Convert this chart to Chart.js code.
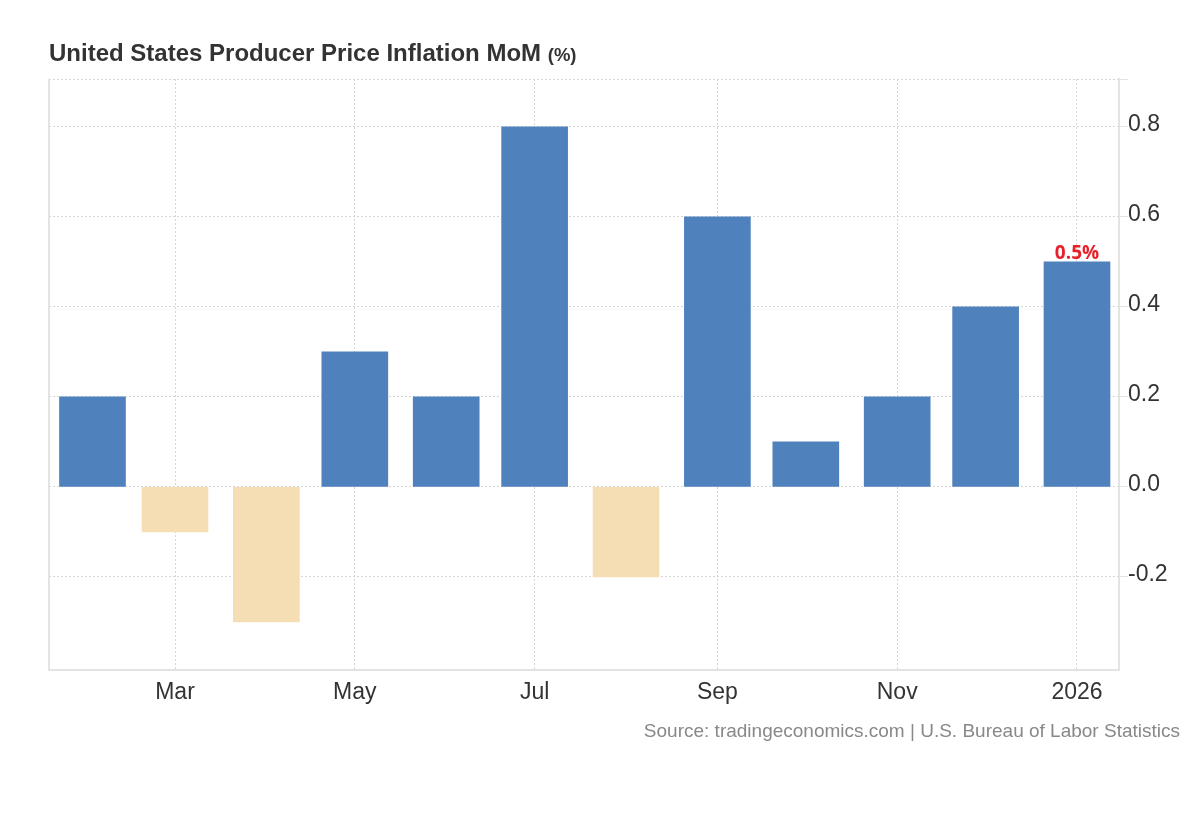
<!DOCTYPE html>
<html>
<head>
<meta charset="utf-8">
<script src="https://cdn.jsdelivr.net/npm/chart.js@4.4.1/dist/chart.umd.min.js"></script>
<style>
body { margin: 0; background: #fff; }
#wrap { position: relative; width: 1200px; height: 820px; }
#title { position: absolute; left: 49px; top: 39px; font: bold 24px "Liberation Sans", Arial, sans-serif; color: #333; white-space: nowrap; }
#title span { font-size: 18.5px; }
#source { position: absolute; right: 20px; top: 720px; font: 19px "Liberation Sans", Arial, sans-serif; color: #888; white-space: nowrap; }
canvas { position: absolute; left: 0; top: 0; }
</style>
</head>
<body>
<div id="wrap">
  <canvas id="chart" width="1200" height="820"></canvas>
  <div id="title">United States Producer Price Inflation MoM <span>(%)</span></div>
  <div id="source">Source: tradingeconomics.com | U.S. Bureau of Labor Statistics</div>
</div>
<script>
// monthly PPI change, Feb 2025 - Jan 2026
var months = ['2025-02', '2025-03', '2025-04', '2025-05', '2025-06', '2025-07',
              '2025-08', '2025-09', '2025-10', '2025-11', '2025-12', '2026-01'];
var values = [0.2, -0.1, -0.3, 0.3, 0.2, 0.8, -0.2, 0.6, 0.1, 0.2, 0.4, 0.5];
var xTickMonths = ['2025-03', '2025-05', '2025-07', '2025-09', '2025-11', '2026-01'];
var xTickLabels = ['Mar', 'May', 'Jul', 'Sep', 'Nov', '2026'];
var yTicks = [-0.2, 0, 0.2, 0.4, 0.6, 0.8];
var lastLabel = '0.5%';

function dayIndex(m) {
    var p = m.split('-');
    return (Date.UTC(+p[0], +p[1] - 1, 1) - Date.UTC(2025, 1, 1)) / 86400000;
}

var yMin = -0.407, yMax = 0.906;
var tickFont = { family: '"Liberation Sans", Arial, sans-serif', size: 23 };

var extras = {
    id: 'extras',
    afterDatasetsDraw: function(chart) {
        var ctx = chart.ctx, area = chart.chartArea;
        ctx.save();
        ctx.strokeStyle = '#e3e3e3';
        ctx.lineWidth = 2;
        ctx.beginPath();
        ctx.moveTo(area.left, area.top);
        ctx.lineTo(area.left, area.bottom + 1);
        ctx.stroke();

        var bar = chart.getDatasetMeta(0).data[values.length - 1];
        ctx.fillStyle = '#e8202a';
        ctx.font = 'bold 19px "Open Sans", "DejaVu Sans", sans-serif';
        ctx.textAlign = 'center';
        ctx.textBaseline = 'alphabetic';
        ctx.fillText(lastLabel, bar.x, bar.y - 3);
        ctx.restore();
    }
};

var chart = new Chart(document.getElementById('chart'), {
    type: 'bar',
    data: {
        datasets: [{
            data: months.map(function(m, i) { return { x: dayIndex(m), y: values[i] }; }),
            backgroundColor: values.map(function(v) { return v >= 0 ? '#4f81bd' : '#f5deb3'; }),
            barThickness: 66
        }]
    },
    options: {
        responsive: false,
        animation: false,
        layout: { padding: { left: 49, top: 79, right: 0, bottom: 0 } },
        plugins: { legend: { display: false }, tooltip: { enabled: false } },
        scales: {
            x: {
                type: 'linear',
                min: -14.75,
                max: 348.25,
                offset: false,
                afterBuildTicks: function(scale) {
                    scale.ticks = xTickMonths.map(function(m) { return { value: dayIndex(m) }; });
                },
                afterFit: function(scale) {
                    scale.height = 150;
                    scale.paddingLeft = 0;
                    scale.paddingRight = 0;
                },
                ticks: {
                    autoSkip: false,
                    maxRotation: 0,
                    padding: 9,
                    color: '#333',
                    font: tickFont,
                    callback: function(v, i) { return xTickLabels[i]; }
                },
                grid: { offset: false, color: '#d6d6d6', lineWidth: 1, drawTicks: false },
                border: { display: true, color: '#e3e3e3', width: 2, dash: [2, 2] }
            },
            y: {
                position: 'right',
                min: yMin,
                max: yMax,
                afterBuildTicks: function(scale) {
                    scale.ticks = yTicks.map(function(v) { return { value: v }; });
                    scale.ticks.push({ value: yMax });
                },
                afterFit: function(scale) {
                    scale.width = 81;
                    scale.paddingTop = 0;
                    scale.paddingBottom = 0;
                },
                ticks: {
                    padding: 0,
                    labelOffset: -2,
                    color: '#333',
                    font: tickFont,
                    callback: function(v) { return yTicks.indexOf(v) >= 0 ? v.toFixed(1) : ''; }
                },
                grid: { color: '#d6d6d6', lineWidth: 1, tickLength: 9, tickColor: '#e3e3e3', tickBorderDash: [] },
                border: { display: true, color: '#e3e3e3', width: 2, dash: [2, 2] }
            }
        }
    },
    plugins: [extras]
});
</script>
</body>
</html>
